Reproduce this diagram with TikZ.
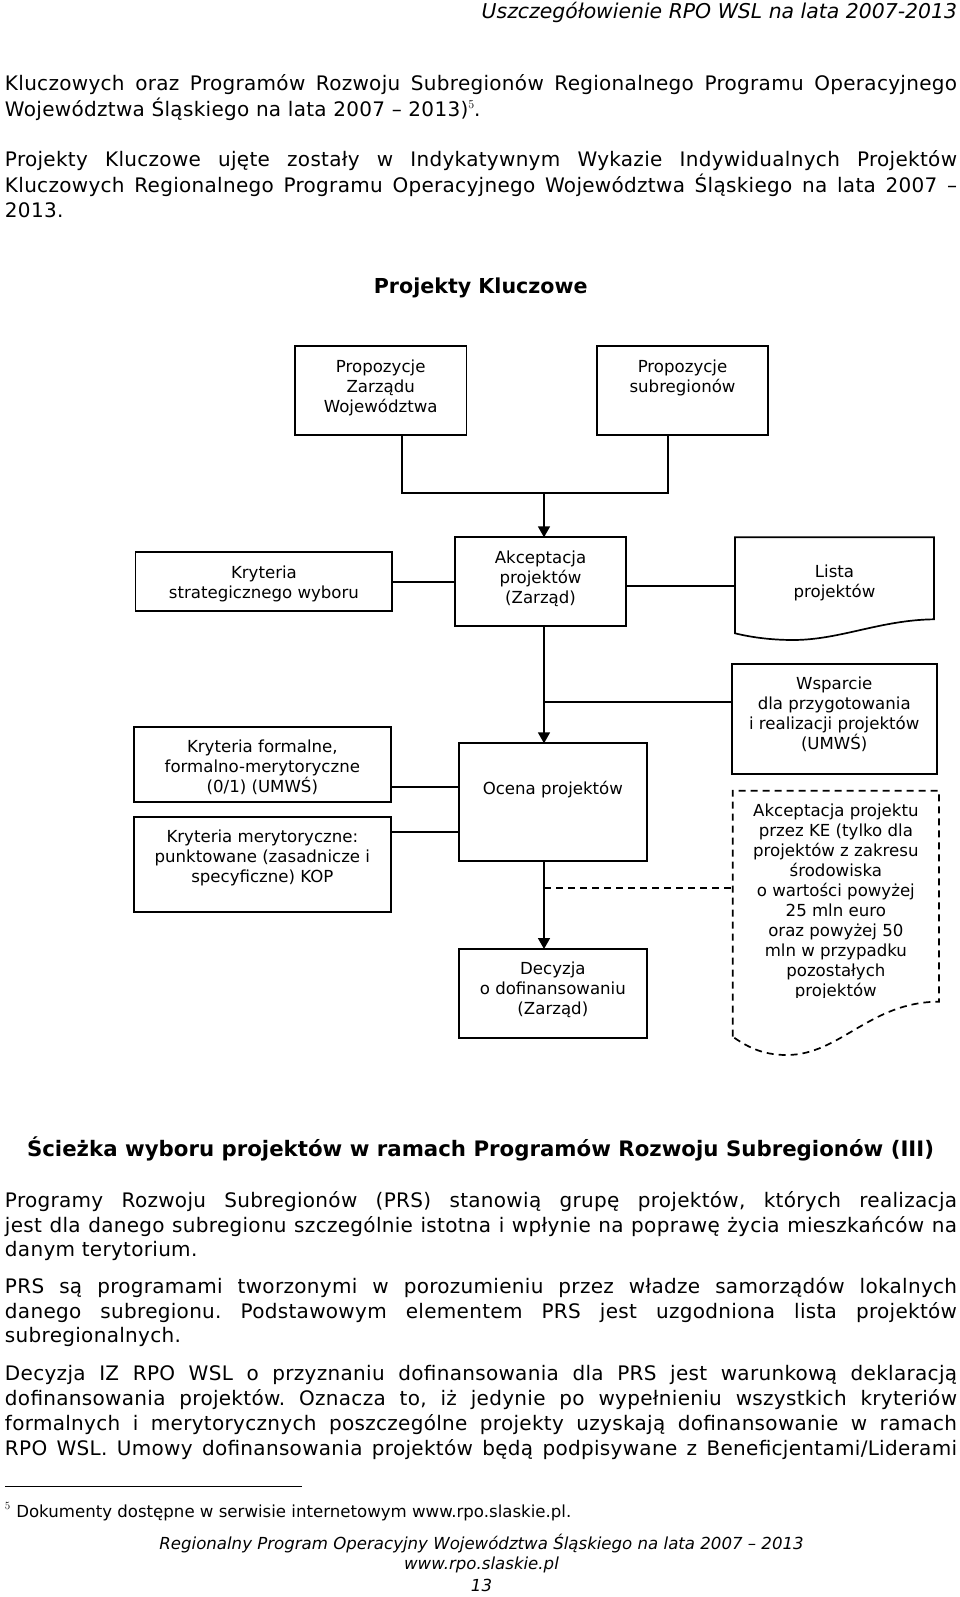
\documentclass[tikz,border=0pt]{standalone}
\usepackage{fontspec}
\newfontfamily\dv{DejaVu Sans}
\newfontfamily\dvls[LetterSpace=1.5]{DejaVu Sans}
\newfontfamily\dvbf{DejaVu Sans Bold}
\newfontfamily\dvit{DejaVu Sans Oblique}
\usetikzlibrary{arrows.meta}
\frenchspacing
\newcommand\boxf{\dv\fontsize{16.6}{20}\selectfont}
\newcommand\bodyf{\dvls\fontsize{20}{25.4}\selectfont\frenchspacing}
\newcommand\smallf{\dv\fontsize{16.6}{20}\selectfont}
\newcommand\footf{\dvit\fontsize{16.6}{20}\selectfont}
\newcommand\bx[4]{\parbox[c][#2pt][t]{#1pt}{\centering\boxf\vspace*{#3pt}\strut #4}}
\newcommand\jl[1]{\makebox[952pt][s]{#1}}
\newcommand\supfive{\raisebox{8pt}{\rmfamily\fontsize{12}{13}\selectfont 5}}
\tikzset{
  box/.style={draw, line width=1.7pt, inner sep=0pt, outer sep=0pt, anchor=north west},
  shp/.style={inner sep=0pt, outer sep=0pt, anchor=north west},
  conn/.style={line width=1.7pt},
  arr/.style={conn, -{Triangle[length=11pt,width=12pt]}},
  dconn/.style={conn, dash pattern=on 7pt off 5pt},
  txt/.style={inner sep=0pt, outer sep=0pt, anchor=base west},
}
\begin{document}
\begin{tikzpicture}[x=1pt,y=-1pt]
\fill[white] (0,0) rectangle (960,1597);
\useasboundingbox (0,0) rectangle (960,1597);

% header
\node[txt, anchor=base east] (hdr) at (957,18.5) {\dvit\fontsize{20.4}{24}\selectfont Uszczegółowienie RPO WSL na lata 2007-2013};

% first paragraphs
\node[txt] (a1) at (5,91) {\bodyf\jl{Kluczowych oraz Programów Rozwoju Subregionów Regionalnego Programu Operacyjnego}};
\node[txt] (a2) at (5,116.4) {\bodyf Województwa Śląskiego na lata 2007 – 2013)\supfive.};
\node[txt] (a3) at (5,167) {\bodyf\jl{Projekty Kluczowe ujęte zostały w Indykatywnym Wykazie Indywidualnych Projektów}};
\node[txt] (a4) at (5,192.4) {\bodyf\jl{Kluczowych Regionalnego Programu Operacyjnego Województwa Śląskiego na lata 2007 –}};
\node[txt] (a5) at (5,217.8) {\bodyf 2013.};

% title
\node[txt, anchor=base] (ttl) at (480.7,293.3) {\dvbf\fontsize{20.6}{24}\selectfont Projekty Kluczowe};

% diagram boxes
\node[box] (p1) at (295,346) {\bx{171.4}{88.7}{12.3}{Propozycje\\Zarządu\\Województwa}};
\node[box] (p2) at (596.8,346) {\bx{171.4}{88.7}{12.3}{Propozycje\\subregionów}};
\node[box] (ks) at (135.6,552.3) {\bx{256.7}{58.7}{12}{Kryteria\\strategicznego wyboru}};
\node[box] (akc) at (454.8,537.3) {\bx{171.5}{88.4}{12}{Akceptacja\\projektów\\(Zarząd)}};
\node[shp] (lista) at (735,537.3) {\bx{199}{96}{26}{Lista\\projektów}};
\node[box] (wsp) at (731.7,664) {\bx{205}{110.3}{11.3}{Wsparcie\\dla przygotowania\\i realizacji projektów\\(UMWŚ)}};
\begin{scope}
\clip (700,780) rectangle (960,997.5);
\node[shp] (ke) at (732.7,790.7) {\bx{206.3}{246}{11.3}{Akceptacja projektu\\przez KE (tylko dla\\projektów z zakresu\\środowiska\\o wartości powyżej\\25 mln euro\\oraz powyżej 50\\mln w przypadku\\pozostałych\\projektów}};
\end{scope}
\node[box] (kf) at (134,727.3) {\bx{256.7}{75}{11.4}{Kryteria formalne,\\formalno-merytoryczne\\(0/1) (UMWŚ)}};
\node[box] (km) at (134,816.7) {\bx{256.7}{95.6}{11.3}{Kryteria merytoryczne:\\punktowane (zasadnicze i\\specyficzne) KOP}};
\node[box] (ocena) at (459,743.3) {\bx{187.7}{117.4}{37}{Ocena projektów}};
\node[box] (dec) at (459,949) {\bx{187.7}{88.7}{11.3}{Decyzja\\o dofinansowaniu\\(Zarząd)}};

% document shapes
\draw[conn] (lista.south west) -- (lista.north west) -- (lista.north east) -- (lista.north east |- 0,619.3)
  .. controls (880,620) and (840,640) .. (793,640)
  .. controls (770,640) and (750,637) .. (lista.south west) -- cycle;
\draw[dconn] (ke.south west) -- (ke.north west) -- (ke.north east) -- (ke.north east |- 0,1001.7)
  .. controls (870,1001.7) and (840,1055) .. (786.7,1055)
  .. controls (760,1055) and (745,1045) .. (ke.south west);

% connectors
\coordinate (j) at (544,493.3);
\draw[conn] (p1.south -| 401.7,0) |- (j) -| (p2.south -| 668.2,0);
\draw[arr] (j) -- (j |- akc.north);
\draw[arr] (akc.south -| j) -- (ocena.north -| j);
\draw[arr] (ocena.south -| j) -- (dec.north -| j);
\coordinate (b1) at (544,701.7);
\draw[conn] (b1) -- (b1 -| wsp.west);
\coordinate (b2) at (544,888);
\draw[dconn] (b2) -- (b2 -| ke.west);
\draw[conn] (ks.east) -- (ks.east -| akc.west);
\draw[conn] (akc.east |- 0,585.7) -- (lista.west |- 0,585.7);
\draw[conn] (kf.east |- 0,787) -- (ocena.west |- 0,787);
\draw[conn] (km.east |- 0,831.7) -- (ocena.west |- 0,831.7);

% bottom section
\node[txt, anchor=base] (h2) at (480.5,1156) {\dvbf\fontsize{21.3}{25}\selectfont Ścieżka wyboru projektów w ramach Programów Rozwoju Subregionów (III)};
\node[txt] (b01) at (5,1207) {\bodyf\jl{Programy Rozwoju Subregionów (PRS) stanowią grupę projektów, których realizacja}};
\node[txt] (b02) at (5,1232.2) {\bodyf\jl{jest dla danego subregionu szczególnie istotna i wpłynie na poprawę życia mieszkańców na}};
\node[txt] (b03) at (5,1256.6) {\bodyf danym terytorium.};
\node[txt] (b04) at (5,1293.2) {\bodyf\jl{PRS są programami tworzonymi w porozumieniu przez władze samorządów lokalnych}};
\node[txt] (b05) at (5,1318.4) {\bodyf\jl{danego subregionu. Podstawowym elementem PRS jest uzgodniona lista projektów}};
\node[txt] (b06) at (5,1342.8) {\bodyf subregionalnych.};
\node[txt] (b07) at (5,1380.6) {\bodyf\jl{Decyzja IZ RPO WSL o przyznaniu dofinansowania dla PRS jest warunkową deklaracją}};
\node[txt] (b08) at (5,1405.6) {\bodyf\jl{dofinansowania projektów. Oznacza to, iż jedynie po wypełnieniu wszystkich kryteriów}};
\node[txt] (b09) at (5,1430.2) {\bodyf\jl{formalnych i merytorycznych poszczególne projekty uzyskają dofinansowanie w ramach}};
\node[txt] (b10) at (5,1455.4) {\bodyf\jl{RPO WSL. Umowy dofinansowania projektów będą podpisywane z Beneficjentami/Liderami}};

% footnote
\draw[line width=0.9pt] (5,1486.5) -- (302,1486.5);
\node[txt] (fn5) at (5,1509) {\rmfamily\fontsize{11}{12}\selectfont 5};
\node[txt] (fn) at (16.3,1517) {\smallf Dokumenty dostępne w serwisie internetowym www.rpo.slaskie.pl.};

% footer
\node[txt, anchor=base] (f1) at (481.5,1549) {\footf Regionalny Program Operacyjny Województwa Śląskiego na lata 2007 – 2013};
\node[txt, anchor=base] (f2) at (481.5,1569.5) {\footf www.rpo.slaskie.pl};
\node[txt, anchor=base] (f3) at (481.5,1591) {\footf 13};
\end{tikzpicture}
\end{document}
